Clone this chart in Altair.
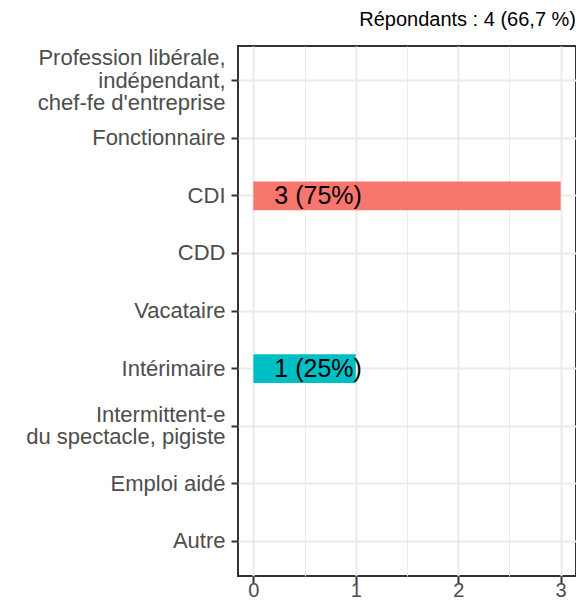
import altair as alt
import pandas as pd

categories = [
    "Profession libérale,\nindépendant,\nchef-fe d'entreprise",
    "Fonctionnaire",
    "CDI",
    "CDD",
    "Vacataire",
    "Intérimaire",
    "Intermittent-e\ndu spectacle, pigiste",
    "Emploi aidé",
    "Autre",
]
counts = [0, 0, 3, 0, 0, 1, 0, 0, 0]
bar_colors = {"CDI": "#F8766D", "Intérimaire": "#00BFC4"}
x_ticks = [0, 1, 2, 3]
x_minor = [0.5, 1.5, 2.5]
title_text = "Répondants : 4 (66,7 %)"

total = sum(counts)
df = pd.DataFrame({"cat": categories, "n": counts})
df["label"] = [f"{n} ({round(100 * n / total)}%)" for n in counts]
df = df[df["n"] > 0]

FONT = "Liberation Sans"
GRID = "#EBEBEB"
DARK = "#333333"
LINE_H = 22.5

y_axis = alt.Axis(
    title=None,
    bandPosition=0.5,
    labelExpr="split(datum.label, '\\n')",
    labelLineHeight=LINE_H,
    labelFontSize=22,
    labelColor="#4D4D4D",
    labelPadding=6,
    labelLimit=0,
    labelOffset={
        "condition": [
            {"test": "length(split(datum.value, '\\n')) == 3", "value": -LINE_H},
            {"test": "length(split(datum.value, '\\n')) == 2", "value": -LINE_H / 2},
        ],
        "value": 0,
    },
    tickSize=7,
    tickWidth=2,
    tickColor=DARK,
    domain=False,
    grid=True,
    gridColor=GRID,
    gridWidth=2,
)
y_scale = alt.Scale(domain=categories, paddingInner=0.5, paddingOuter=0.35)

bars = alt.Chart(df).mark_bar().encode(
    x=alt.X(
        "n:Q",
        scale=alt.Scale(domain=[-0.15, 3.15], nice=False, zero=False),
        axis=alt.Axis(
            title=None,
            values=x_ticks,
            format="d",
            labelFontSize=20,
            labelColor="#4D4D4D",
            labelPadding=-3,
            tickSize=7,
            tickWidth=2,
            tickColor=DARK,
            domain=False,
            grid=True,
            gridColor=GRID,
            gridWidth=2,
        ),
    ),
    x2=alt.X2(datum=0),
    y=alt.Y("cat:N", sort=categories, scale=y_scale, axis=y_axis),
    color=alt.Color(
        "cat:N",
        scale=alt.Scale(domain=list(bar_colors.keys()), range=list(bar_colors.values())),
        legend=None,
    ),
)

text = alt.Chart(df).mark_text(
    align="left", baseline="middle", dx=21, fontSize=25, font=FONT, color="black"
).encode(
    x=alt.X(
        datum=0,
        type="quantitative",
        axis=alt.Axis(
            title=None,
            orient="top",
            values=x_minor,
            labels=False,
            ticks=False,
            domain=False,
            grid=True,
            gridColor=GRID,
            gridWidth=1,
            minExtent=0,
            maxExtent=0,
        ),
    ),
    y=alt.Y("cat:N", sort=categories, scale=y_scale, axis=y_axis),
    text="label:N",
)

chart = (
    alt.layer(bars, text)
    .resolve_axis(x="independent")
    .properties(
        width=338,
        height=530,
        autosize=alt.AutoSizeParams(type="none"),
        padding={"left": 230, "top": 38, "right": 0, "bottom": 27},
        title=alt.TitleParams(
            title_text,
            anchor="end",
            fontSize=20,
            font=FONT,
            fontWeight="normal",
            color="black",
            baseline="alphabetic",
            offset=0,
        ),
    )
    .configure_axis(labelFont=FONT)
    .configure_view(stroke=DARK, strokeWidth=2)
)

chart.save("out.html", embed_options={"renderer": "svg", "actions": False})
